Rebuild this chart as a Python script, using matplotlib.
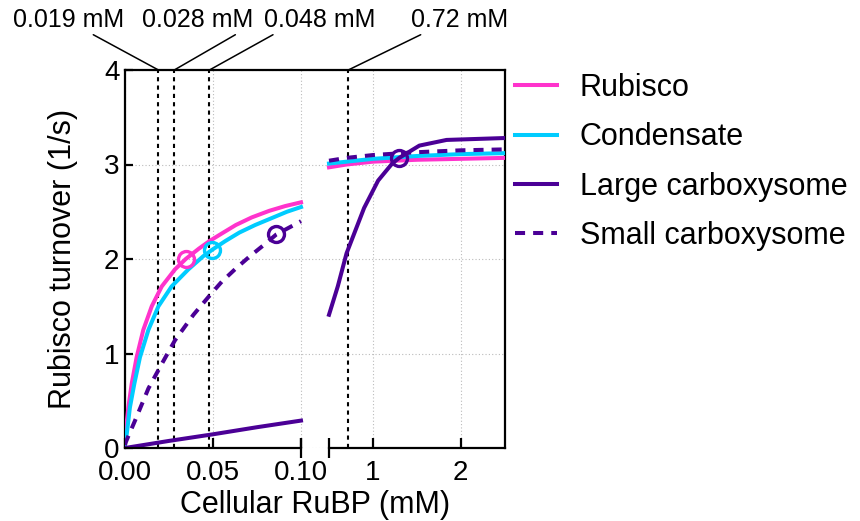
import numpy as np
import matplotlib
matplotlib.use("Agg")
import matplotlib.pyplot as plt

plt.rcParams['font.family'] = ['Liberation Sans', 'DejaVu Sans']

# low-RuBP part of the axis (0 - 0.1 mM)
x_rub_low = [0, 0.0004, 0.0019, 0.0038, 0.0066, 0.0104, 0.0152, 0.0209, 0.0284,
             0.0345, 0.042, 0.048, 0.055, 0.063, 0.072, 0.082, 0.091, 0.10]
rubisco_low = [0.05, 0.17, 0.43, 0.68, 0.96, 1.25, 1.50, 1.71, 1.89,
               2.00, 2.11, 2.19, 2.27, 2.36, 2.44, 2.51, 2.56, 2.60]

x_cond_low = [0, 0.001, 0.0028, 0.0053, 0.0085, 0.0133, 0.019, 0.0265, 0.036,
              0.0445, 0.0497, 0.057, 0.065, 0.074, 0.083, 0.092, 0.10]
condensate_low = [0.04, 0.15, 0.43, 0.68, 0.96, 1.25, 1.50, 1.71, 1.89,
                  2.03, 2.10, 2.19, 2.28, 2.36, 2.43, 2.50, 2.55]

x_large_low = [0, 0.025, 0.05, 0.075, 0.10]
large_low = [0.0, 0.075, 0.145, 0.22, 0.29]

x_small_low = [0, 0.0004, 0.0057, 0.0133, 0.0209, 0.0284, 0.0389, 0.0493, 0.055,
               0.063, 0.071, 0.079, 0.086, 0.093, 0.10]
small_low = [0.03, 0.06, 0.29, 0.63, 0.89, 1.14, 1.41, 1.64, 1.76,
             1.90, 2.03, 2.15, 2.26, 2.33, 2.40]

# high-RuBP part of the axis (0.5 - 2.5 mM)
x_high = [0.5, 0.7, 1.0, 1.5, 2.0, 2.5]
rubisco_high = [2.97, 3.00, 3.03, 3.05, 3.06, 3.07]
condensate_high = [3.01, 3.03, 3.06, 3.09, 3.11, 3.12]
small_high = [3.04, 3.07, 3.10, 3.13, 3.15, 3.16]

x_large_high = [0.5, 0.6, 0.7, 0.9, 1.06, 1.22, 1.3, 1.53, 1.84, 2.5]
large_high = [1.41, 1.71, 2.06, 2.54, 2.83, 3.01, 3.07, 3.20, 3.26, 3.28]

# operating points (open circles)
op_x = [0.0345, 0.0497, 1.3, 0.086]
op_y = [2.00, 2.10, 3.07, 2.26]

# cellular RuBP levels
rubp_levels = [0.019, 0.028, 0.048, 0.72]
rubp_labels = ['0.019 mM', '0.028 mM', '0.048 mM', '0.72 mM']
label_offsets = [(-65, 31), (17, 31), (79, 31), (80, 31)]
label_relpos = [(0.68, 0), (0.88, 0), (0.13, 0), (0.16, 0)]

names = ['Rubisco', 'Condensate', 'Large carboxysome', 'Small carboxysome']
colors = ['#FF33CC', '#00CCFF', '#4B0096', '#4B0096']

# piecewise x-scale with a break between 0.1 and 0.5
brk_x = [-1, 0, 0.1, 0.5, 2.5, 10]
brk_u = [-1760, 0, 176, 204, 379.5, 379.5 + 7.5 * 87.75]


def fwd(x):
    return np.interp(x, brk_x, brk_u)


def inv(u):
    return np.interp(u, brk_u, brk_x)


fig = plt.figure(figsize=(8.6, 5.21), dpi=100)
ax = fig.add_axes([125 / 860, 73 / 521, 379.5 / 860, 378 / 521])
ax.set_xscale('function', functions=(fwd, inv))
ax.set_xlim(0, 2.5)
ax.set_ylim(0, 4)

ax.grid(True, color='#bbbbbb', linestyle=(0, (1, 2)), linewidth=0.8)
ax.set_axisbelow(True)

for lv in rubp_levels:
    ax.plot([lv, lv], [0, 4], color='k', lw=1.5, linestyle=(0, (2, 2)), zorder=2)

lw = 2.9
ax.plot(x_rub_low, rubisco_low, color=colors[0], lw=lw, label=names[0], zorder=3)
ax.plot(x_high, rubisco_high, color=colors[0], lw=lw, zorder=3)
ax.plot(x_cond_low, condensate_low, color=colors[1], lw=lw, label=names[1], zorder=3)
ax.plot(x_high, condensate_high, color=colors[1], lw=lw, zorder=3)
ax.plot(x_large_low, large_low, color=colors[2], lw=lw, label=names[2], zorder=4)
ax.plot(x_large_high, large_high, color=colors[2], lw=lw, zorder=4)
ax.plot(x_small_low, small_low, color=colors[3], lw=lw, dashes=(2.5, 2),
        label=names[3], zorder=3)
ax.plot(x_high, small_high, color=colors[3], lw=lw, dashes=(2.5, 2), zorder=3)

for px, py, c in zip(op_x, op_y, colors):
    ax.plot(px, py, 'o', ms=11.5, mfc='none', mec=c, mew=2.4, zorder=5)

# broken bottom axis
ax.spines['bottom'].set_visible(False)
for seg in ([0, 0.1], [0.5, 2.5]):
    ax.plot(seg, [0, 0], color='k', lw=1.6, clip_on=False, zorder=6)
ax.plot([0.1, 0.5], [0, 0], '|', color='k', ms=14, mew=1.6, clip_on=False, zorder=6)

for s in ['left', 'top', 'right']:
    ax.spines[s].set_linewidth(1.6)

ax.set_xticks([0, 0.05, 0.1, 1, 2])
ax.set_xticklabels(['0.00', '0.05', '0.10', '1', '2'])
ax.set_yticks([0, 1, 2, 3, 4])
ax.tick_params(axis='x', direction='in', length=7, width=1.6, pad=9, labelsize=20)
ax.tick_params(axis='y', direction='in', length=6, width=1.6, pad=4, labelsize=20)
ax.tick_params(top=False, right=False)

ax.set_xlabel('Cellular RuBP (mM)', fontsize=22)
ax.set_ylabel('Rubisco turnover (1/s)', fontsize=22)
ax.xaxis.set_label_coords(0.5, -0.11)
ax.yaxis.set_label_coords(-0.124, 0.5)

for lv, txt, off, rp in zip(rubp_levels, rubp_labels, label_offsets, label_relpos):
    ax.annotate(txt, xy=(lv, 4), xytext=off, textcoords='offset points',
                ha='center', va='baseline', fontsize=18, annotation_clip=False,
                arrowprops=dict(arrowstyle='-', color='k', lw=1.1,
                                shrinkA=0, shrinkB=0, relpos=rp))

ax.legend(loc='upper left', bbox_to_anchor=(1.0277, 0.992), frameon=False,
          fontsize=22, handlelength=1.37, handletextpad=0.75, labelspacing=0.63,
          borderpad=0, borderaxespad=0)

fig.savefig('out.png', dpi=100)
